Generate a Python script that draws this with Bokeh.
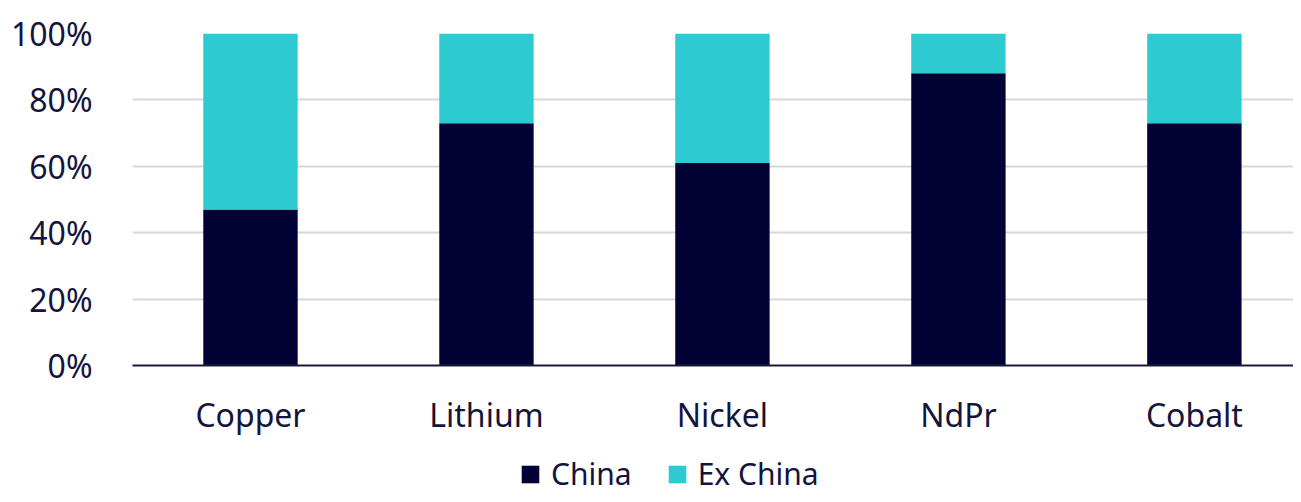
from bokeh.plotting import figure
from bokeh.layouts import column
from bokeh.models import Range1d, FixedTicker, PrintfTickFormatter, ColumnDataSource, Legend, LegendItem
from bokeh.embed import file_html
from bokeh.resources import INLINE

categories = ["Copper", "Lithium", "Nickel", "NdPr", "Cobalt"]
china = [47, 73, 61, 88, 73]
ex_china = [53, 27, 39, 12, 27]
y_ticks = [0, 20, 40, 60, 80, 100]
series_names = ["China", "Ex China"]
colors = ["#020235", "#2ecad2"]

x_pos = [i + 0.5 for i in range(len(categories))]
src = ColumnDataSource(dict(x=x_pos, china=china, ex_china=ex_china))

FONT = "Noto Sans"
TXT = "#14143c"

p = figure(width=1293, height=445, output_backend="svg", toolbar_location=None,
           x_range=Range1d(0, 4.92), y_range=Range1d(0, 100),
           min_border_left=132, min_border_right=0, min_border_top=33, min_border_bottom=80)
p.outline_line_color = None
p.background_fill_color = "white"

r = p.vbar_stack(["china", "ex_china"], x="x", width=0.4, source=src,
                 color=colors, line_color=None)

p.xaxis.ticker = FixedTicker(ticks=x_pos)
p.xaxis.major_label_overrides = {x: c for x, c in zip(x_pos, categories)}
p.yaxis.ticker = FixedTicker(ticks=y_ticks)
p.yaxis.formatter = PrintfTickFormatter(format="%d%%")

for ax in (p.xaxis, p.yaxis):
    ax.major_tick_line_color = None
    ax.minor_tick_line_color = None
    ax.major_label_text_font = FONT
    ax.major_label_text_font_size = "32px"
    ax.major_label_text_color = TXT
p.yaxis.axis_line_color = None
p.yaxis.major_label_standoff = 34
p.xaxis.axis_line_color = "#1a1a3a"
p.xaxis.axis_line_width = 2
p.xaxis.major_label_standoff = 21

p.xgrid.grid_line_color = None
p.ygrid.grid_line_color = "#d3d8de"
p.ygrid.grid_line_width = 2

# Legend strip below the chart (its bars sit outside the visible range)
lf = figure(width=1293, height=49, output_backend="svg", toolbar_location=None,
            x_range=Range1d(0, 4.92), y_range=Range1d(1000, 1001),
            x_axis_type=None, y_axis_type=None,
            min_border_left=0, min_border_right=0, min_border_top=0, min_border_bottom=0)
lf.outline_line_color = None
lr = lf.vbar_stack(["china", "ex_china"], x="x", width=0.4, source=src,
                   color=colors, line_color=None)

legend = Legend(items=[LegendItem(label=series_names[0], renderers=[lr[0]]),
                       LegendItem(label=series_names[1], renderers=[lr[1]])],
                orientation="horizontal", location=(387, 0))
legend.label_text_font = FONT
legend.label_text_font_size = "30px"
legend.label_text_color = TXT
legend.glyph_width = 22
legend.glyph_height = 22
legend.spacing = 34
legend.label_standoff = 10
legend.border_line_color = None
legend.background_fill_alpha = 0
legend.padding = 0
legend.margin = 0
lf.add_layout(legend)

open("out.html", "w").write(file_html(column(p, lf), INLINE))
